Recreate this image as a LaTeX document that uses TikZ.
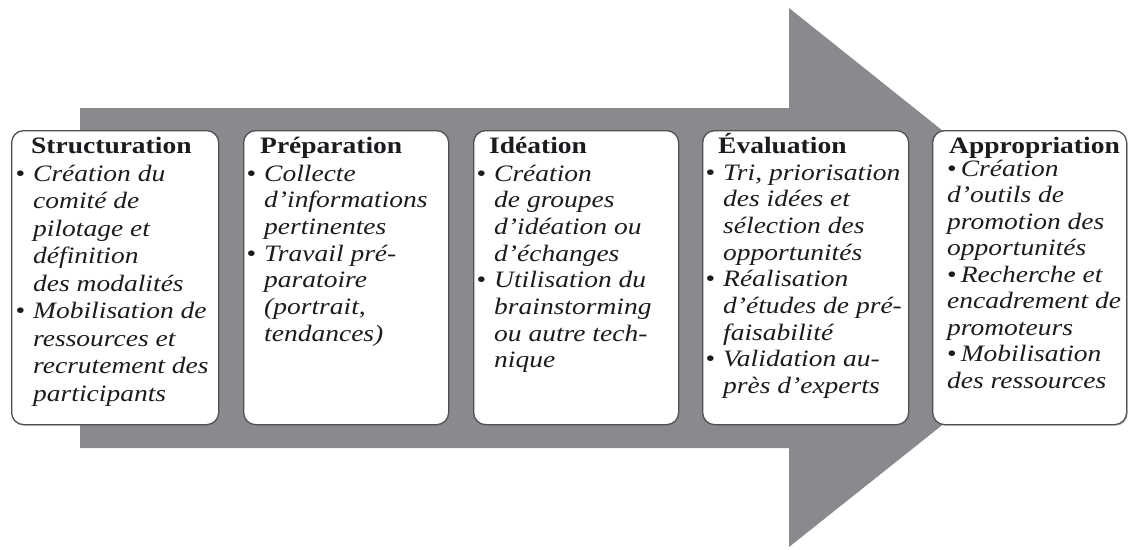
\documentclass[tikz,border=0pt]{standalone}
\usepackage{fontspec}
\setmainfont[FakeStretch=1.17]{Liberation Serif}
\definecolor{arrowgray}{RGB}{138,138,142}
\definecolor{boxline}{RGB}{80,80,84}
\definecolor{ink}{RGB}{28,28,32}
% bullet hanging in the left margin, and bullet set inline
\newcommand\stagedot{\leavevmode\llap{\upshape\textbullet\hskip 8pt}}
\newcommand\stagedotin{\leavevmode{\upshape\textbullet}\hskip 4pt}
\newcommand\stagelines[2]{\vtop{\hsize=210pt\parindent=0pt\parskip=0pt
  \baselineskip=#1pt #2}}
\begin{document}
\begin{tikzpicture}[x=1pt,y=1pt,
  stagebox/.style={draw=boxline, line width=1.3pt, fill=white, rounded corners=12pt,
    anchor=north west, inner sep=0pt, minimum height=294pt},
  stageshadow/.style={fill=black!45, rounded corners=12pt, anchor=north west,
    inner sep=0pt, minimum height=294pt, opacity=0.5},
  stagetitle/.style={anchor=base west, inner sep=0pt, text=ink,
    font=\fontsize{23.5}{27}\selectfont\bfseries},
  stagebody/.style={anchor=base west, inner sep=0pt, text=ink,
    font=\fontsize{23.5}{27}\selectfont\itshape}]
\useasboundingbox (0,0) rectangle (1129,-549);

% the big process arrow
\fill[arrowgray] (80,-108) -- (789,-108) -- (789,-8) -- (1127,-278)
  -- (789,-547) -- (789,-448) -- (80,-448) -- cycle;

% stage boxes
\foreach \n/\x/\w in {1/11/207, 2/243/205, 3/473/205, 4/702/206, 5/932/194}{
  \node[stageshadow, minimum width=\w pt] (s\n) at (\x+1.5,-131.5) {};
  \node[stagebox, minimum width=\w pt] (b\n) at (\x,-130) {};
}

% stage 1
\node[stagetitle] (h1) at (31,-153) {Structuration};
\node[stagebody] (t1) at (33,-181) {\stagelines{27.5}{%
  \stagedot Création du\par comité de\par pilotage et\par définition\par des modalités\par
  \stagedot Mobilisation de\par ressources et\par recrutement des\par participants}};

% stage 2
\node[stagetitle] (h2) at (260,-153) {Préparation};
\node[stagebody] (t2) at (264,-181) {\stagelines{26.7}{%
  \stagedot Collecte\par d’informations\par pertinentes\par
  \stagedot Travail pré-\par paratoire\par (portrait,\par tendances)}};

% stage 3
\node[stagetitle] (h3) at (489,-153) {Idéation};
\node[stagebody] (t3) at (494,-181) {\stagelines{26.7}{%
  \stagedot Création\par de groupes\par d’idéation ou\par d’échanges\par
  \stagedot Utilisation du\par brainstorming\par ou autre tech-\par nique}};

% stage 4
\node[stagetitle] (h4) at (718,-153) {Évaluation};
\node[stagebody] (t4) at (723,-180) {\stagelines{26.7}{%
  \stagedot Tri, priorisation\par des idées et\par sélection des\par opportunités\par
  \stagedot Réalisation\par d’études de pré-\par faisabilité\par
  \stagedot Validation au-\par près d’experts}};

% stage 5
\node[stagetitle] (h5) at (949,-153) {Appropriation};
\node[stagebody] (t5) at (947,-176) {\stagelines{26.5}{%
  \stagedotin Création\par d’outils de\par promotion des\par opportunités\par
  \stagedotin Recherche et\par encadrement de\par promoteurs\par
  \stagedotin Mobilisation\par des ressources}};
\end{tikzpicture}
\end{document}
